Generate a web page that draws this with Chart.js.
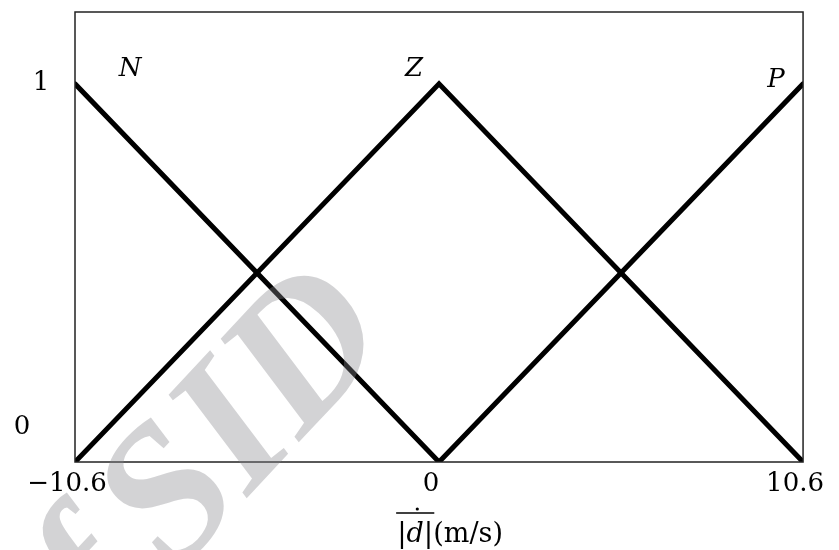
<!DOCTYPE html>
<html>
<head>
<meta charset="utf-8">
<script src="https://cdn.jsdelivr.net/npm/chart.js@4/dist/chart.umd.min.js"></script>
<style>
  html, body { margin: 0; padding: 0; background: #fff; }
  canvas { display: block; }
</style>
</head>
<body>
<canvas id="chart" width="839" height="550"></canvas>
<script>
// Membership functions of the speed input: breakpoints along the axis
const breakpoints = [-10.6, 0, 10.6];
const setNames = ['N', 'Z', 'P'];
const nValues = [1, 0, null];
const zValues = [0, 1, 0];
const pValues = [null, 0, 1];
const xTicks = [-10.6, 0, 10.6];
const yTicks = [0, 1];
const yTop = 1.19;

const toPoints = vals => breakpoints
  .map((x, i) => ({ x: x, y: vals[i] }))
  .filter(p => p.y !== null);

const serif = '"DejaVu Serif", "Liberation Serif", serif';

const lineStyle = {
  borderColor: '#000',
  borderWidth: 5,
  borderCapStyle: 'round',
  borderJoinStyle: 'miter',
  pointRadius: 0,
  fill: false,
  tension: 0
};

// Frame, set names, y labels and the axis title
const decorations = {
  id: 'decorations',
  afterDatasetsDraw(chart) {
    const { ctx, chartArea: a, scales: { x, y } } = chart;
    ctx.save();
    ctx.strokeStyle = '#222';
    ctx.lineWidth = 1.5;
    ctx.strokeRect(a.left, a.top, a.right - a.left, a.bottom - a.top);

    ctx.fillStyle = '#000';
    ctx.textAlign = 'center';
    ctx.textBaseline = 'middle';

    // set names above each peak
    ctx.font = 'italic 26px ' + serif;
    const peaks = [[breakpoints[0], 55, -15], [breakpoints[1], -25, -15], [breakpoints[2], -27, -4]];
    setNames.forEach((name, i) => {
      const [px, dx, dy] = peaks[i];
      ctx.fillText(name, x.getPixelForValue(px) + dx, y.getPixelForValue(1) + dy);
    });

    // y tick labels
    ctx.font = '26px ' + serif;
    const yLabelPos = { 1: [-34, -1], 0: [-53, -35] };
    yTicks.forEach(v => {
      const [dx, dy] = yLabelPos[v];
      ctx.fillText(String(v), a.left + dx, y.getPixelForValue(v) + dy);
    });

    // axis title: overline |d-dot| (m/s)
    const parts = [
      ['|', '28px ' + serif],
      ['d', 'italic 27px ' + serif],
      ['|', '28px ' + serif],
      ['(m/s)', '27px ' + serif]
    ];
    const widths = parts.map(([t, f]) => { ctx.font = f; return ctx.measureText(t).width; });
    const total = widths.reduce((s, w) => s + w, 0);
    const cx = x.getPixelForValue(0) + 11;
    const base = 542;
    let cur = cx - total / 2;
    const starts = [];
    ctx.textAlign = 'left';
    ctx.textBaseline = 'alphabetic';
    parts.forEach(([t, f], i) => {
      ctx.font = f;
      starts.push(cur);
      ctx.fillText(t, cur, base);
      cur += widths[i];
    });
    ctx.lineWidth = 1.6;
    ctx.beginPath();
    ctx.moveTo(starts[0] - 1, 513);
    ctx.lineTo(starts[2] + widths[2] + 1, 513);
    ctx.strokeStyle = '#000';
    ctx.stroke();
    ctx.beginPath();
    ctx.arc(starts[1] + widths[1] * 0.62, 509, 1.6, 0, Math.PI * 2);
    ctx.fill();
    ctx.restore();
  },
  afterDraw(chart) {
    // archive watermark laid over the whole figure
    const ctx = chart.ctx;
    ctx.save();
    ctx.translate(174, 576);
    ctx.rotate(-47 * Math.PI / 180);
    ctx.font = 'italic bold 195px "Liberation Serif", serif';
    ctx.fillStyle = 'rgba(135,135,140,0.37)';
    ctx.textBaseline = 'alphabetic';
    ctx.textAlign = 'left';
    ctx.fillText('SID', 0, 0);
    ctx.textAlign = 'right';
    ctx.fillText('Archive of', -28, 0);
    ctx.restore();
  }
};

new Chart(document.getElementById('chart'), {
  type: 'line',
  data: {
    datasets: [
      { label: setNames[0], data: toPoints(nValues), ...lineStyle },
      { label: setNames[1], data: toPoints(zValues), ...lineStyle },
      { label: setNames[2], data: toPoints(pValues), ...lineStyle }
    ]
  },
  options: {
    responsive: false,
    animation: false,
    layout: { padding: { top: 12, right: 34, left: 0, bottom: 0 } },
    plugins: { legend: { display: false }, tooltip: { enabled: false } },
    scales: {
      x: {
        type: 'linear',
        min: breakpoints[0],
        max: breakpoints[2],
        afterBuildTicks: s => { s.ticks = xTicks.map(v => ({ value: v })); },
        afterFit: s => { s.height = 88; },
        grid: { display: false, drawTicks: false },
        border: { display: false },
        ticks: {
          color: '#000',
          font: { family: serif, size: 26 },
          padding: 7,
          labelOffset: -8,
          maxRotation: 0,
          autoSkip: false,
          callback: v => (v < 0 ? '\u2212' + Math.abs(v) : String(v))
        }
      },
      y: {
        type: 'linear',
        min: 0,
        max: yTop,
        afterFit: s => { s.width = 75; },
        grid: { display: false, drawTicks: false },
        border: { display: false },
        ticks: { display: false }
      }
    }
  },
  plugins: [decorations]
});
</script>
</body>
</html>
